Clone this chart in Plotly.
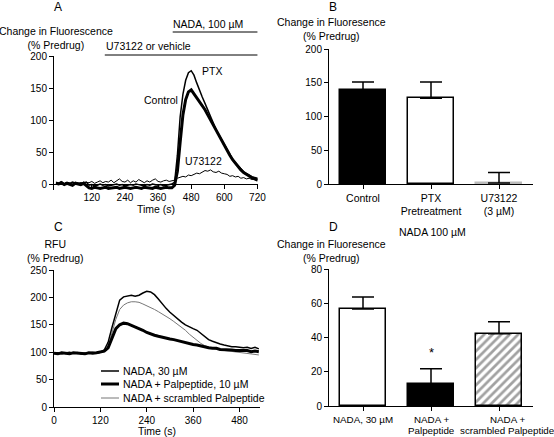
import plotly.graph_objects as go

W, H = 554, 437
FONT = "Liberation Sans, Arial, Helvetica, sans-serif"

# ---------------- Panel A data ----------------
a_time = list(range(-10, 721, 10))
a_control = [1, 0, 2, -1, 1, 0, -2, 1, 0, -1, 1, -2,
             -6, -7, -5, -6, -7, -6, -5, -7, -6, -6, -5, -7, -6, -5, -6, -7,
             -6, -5, -6, -7, -5, -6, -6, -7, -5, -6, -7, -6, -5, -6, -6,
             -2, 20, 65, 108, 132, 144, 147, 141, 135, 128, 122, 116, 108, 100,
             92, 83, 76, 68, 60, 52, 45, 38, 32, 27, 22, 18, 15, 12, 10, 8, 6]
a_ptx = [2, 1, 3, 0, 2, 1, 3, 2, 0, 2, 1, 3,
         -2, -1, -3, -2, 0, -2, -1, -3, -2, -1, 0, -2, -1, -3, -2, -1,
         -2, 0, -1, -2, -3, -1, -2, 0, -1, -2, -1, -3, -2, -1, 0,
         3, 45, 105, 140, 162, 174, 177, 170, 158, 146, 136, 126, 116, 104,
         94, 85, 77, 69, 61, 53, 46, 39, 33, 28, 23, 19, 16, 13, 11, 10, 9]
a_u73122 = [3, 2, 4, 1, 3, 2, 0, 3, 2, 1, 3, 2,
            2, 4, 1, 3, 5, 2, 4, 3, 6, 2, 5, 8, 4, 3, 6, 2,
            5, 3, 7, 4, 2, 5, 3, 6, 8, 4, 3, 5, 6, 4, 5,
            6, 9, 10, 12, 11, 14, 13, 15, 17, 16, 19, 21, 20, 22,
            19, 18, 20, 17, 16, 15, 12, 13, 11, 12, 9, 10, 8, 9, 7, 8, 5]
a_xticks = [120, 240, 360, 480, 600, 720]
a_yticks = [0, 50, 100, 150, 200]

# ---------------- Panel B data ----------------
b_labels = ["Control", "PTX<br>Pretreatment", "U73122<br>(3 µM)"]
b_values = [139, 127, 1.5]
b_errors = [12, 24, 15.5]
b_yticks = [0, 50, 100, 150, 200]

# ---------------- Panel C data ----------------
c_time = list(range(0, 531, 10))
c_nada = [98, 99, 97, 98, 100, 98, 99, 97, 98, 99, 100, 98, 100,
          104, 118, 145, 172, 195, 201, 203, 204, 202, 204, 208, 211, 210, 205,
          197, 188, 180, 173, 167, 160, 155, 150, 146, 143, 140, 134, 128, 123,
          120, 117, 115, 113, 111, 110, 110, 109, 108, 109, 107, 109, 106]
c_palpeptide = [98, 97, 99, 98, 97, 99, 98, 98, 97, 99, 98, 99, 100,
                102, 108, 125, 143, 150, 153, 152, 149, 147, 144, 140, 136, 133, 131,
                129, 127, 126, 124, 123, 121, 120, 118, 116, 114, 113, 111, 110, 108,
                107, 107, 105, 105, 104, 104, 103, 103, 102, 103, 101, 102, 101]
c_scrambled = [99, 98, 100, 97, 99, 98, 100, 99, 97, 98, 99, 98, 99,
               101, 110, 135, 160, 178, 186, 190, 192, 192, 191, 188, 185, 182, 178,
               174, 170, 165, 161, 156, 151, 146, 140, 133, 127, 121, 116, 112, 109,
               107, 105, 104, 104, 103, 102, 101, 100, 99, 98, 97, 96, 95]
c_xticks = [0, 120, 240, 360, 480]
c_yticks = [0, 50, 100, 150, 200, 250]
c_legend = ["NADA, 30 µM", "NADA + Palpeptide, 10 µM", "NADA + scrambled Palpeptide"]

# ---------------- Panel D data ----------------
d_labels_line1 = ["NADA, 30 µM", "NADA +", "NADA +"]
d_labels_line2 = ["", "Palpeptide", "scrambled Palpeptide"]
d_values = [56.6, 12.8, 42.2]
d_errors = [7, 9, 7]
d_yticks = [0, 20, 40, 60, 80]


def px(x):
    return x / W


def py(y):
    return 1 - y / H


fig = go.Figure()

# Panel A traces
fig.add_trace(go.Scatter(x=a_time, y=a_u73122, mode="lines", line=dict(color="black", width=1),
                         xaxis="x", yaxis="y"))
fig.add_trace(go.Scatter(x=a_time, y=a_ptx, mode="lines", line=dict(color="black", width=1.5),
                         xaxis="x", yaxis="y"))
fig.add_trace(go.Scatter(x=a_time, y=a_control, mode="lines", line=dict(color="black", width=3),
                         xaxis="x", yaxis="y"))

# Panel B bars
fig.add_trace(go.Bar(
    x=[0, 1, 2], y=b_values, width=0.68,
    marker=dict(color=["black", "white", "white"],
                line=dict(color=["black", "black", "#bbbbbb"], width=1.5)),
    error_y=dict(type="data", array=b_errors, arrayminus=[0, 0, 0], symmetric=False,
                 color="black", thickness=1.5, width=11),
    xaxis="x2", yaxis="y2"))

# Panel C traces
fig.add_trace(go.Scatter(x=c_time, y=c_scrambled, mode="lines", line=dict(color="#777777", width=1),
                         xaxis="x3", yaxis="y3"))
fig.add_trace(go.Scatter(x=c_time, y=c_nada, mode="lines", line=dict(color="black", width=1.5),
                         xaxis="x3", yaxis="y3"))
fig.add_trace(go.Scatter(x=c_time, y=c_palpeptide, mode="lines", line=dict(color="black", width=3),
                         xaxis="x3", yaxis="y3"))

# Panel D bars
fig.add_trace(go.Bar(
    x=[0, 1, 2], y=d_values, width=0.68,
    marker=dict(color=["white", "black", "white"],
                line=dict(color="black", width=1.5),
                pattern=dict(shape=["", "", "/"], fgcolor="black", bgcolor="white",
                             size=6, solidity=0.45)),
    error_y=dict(type="data", array=d_errors, arrayminus=[0, 0, 0], symmetric=False,
                 color="black", thickness=1.5, width=11),
    xaxis="x4", yaxis="y4"))

axis_common = dict(showline=True, linecolor="black", linewidth=1, ticks="outside",
                   ticklen=4, tickwidth=1, tickcolor="black", showgrid=False, zeroline=False,
                   automargin=False,
                   tickfont=dict(family=FONT, size=10, color="black"))
cat_axis = {**axis_common, "tickfont": dict(family=FONT, size=10.5, color="black"), "tickangle": 0}

fig.update_layout(
    width=W, height=H, margin=dict(l=0, r=0, t=0, b=0, autoexpand=False),
    paper_bgcolor="white", plot_bgcolor="white", showlegend=False,
    font=dict(family=FONT, size=10.5, color="black"),
    bargap=0,
    xaxis=dict(domain=[px(54), px(258)], range=[-17, 722], anchor="free", position=py(184),
               tickvals=a_xticks, title=dict(text="Time (s)", standoff=2,
                                             font=dict(family=FONT, size=10.5)),
               **axis_common),
    yaxis=dict(domain=[py(190.4), py(56)], range=[-10, 200], anchor="x", tickvals=a_yticks,
               **axis_common),
    xaxis2=dict(domain=[px(329), px(533)], range=[-0.5, 2.5], anchor="y2", tickvals=[0, 1, 2],
                ticktext=b_labels, **cat_axis),
    yaxis2=dict(domain=[py(184), py(49)], range=[0, 200], anchor="x2", tickvals=b_yticks,
                **axis_common),
    xaxis3=dict(domain=[px(54), px(260)], range=[0, 533], anchor="y3", tickvals=c_xticks,
                title=dict(text="Time (s)", standoff=2, font=dict(family=FONT, size=10.5)),
                **axis_common),
    yaxis3=dict(domain=[py(407), py(270)], range=[0, 250], anchor="x3", tickvals=c_yticks,
                **axis_common),
    xaxis4=dict(domain=[px(329), px(533)], range=[-0.5, 2.5], anchor="y4", tickvals=[0, 1, 2],
                showticklabels=False, **cat_axis),
    yaxis4=dict(domain=[py(406), py(269)], range=[0, 80], anchor="x4", tickvals=d_yticks,
                **axis_common),
)

ann = []


def text(x, y, s, size=10.5, xanchor="center"):
    ann.append(dict(x=px(x), y=py(y), xref="paper", yref="paper", text=s, showarrow=False,
                    xanchor=xanchor, yanchor="middle", font=dict(family=FONT, size=size, color="black")))


# panel letters
text(58, 7, "A", 12)
text(333, 7, "B", 12)
text(58, 227, "C", 12)
text(333, 227, "D", 12)

# y titles (two lines each)
text(56, 37.5, "Change in Fluorescence<br>(% Predrug)")
text(331, 29, "Change in Fluoresence<br>(% Predrug)")
text(55, 251, "RFU<br>(% Predrug)")
text(331, 250.5, "Change in Fluoresence<br>(% Predrug)")

# panel A labels
text(208, 24, "NADA, 100 µM")
text(148, 46, "U73122 or vehicle")
ann.append(dict(x=554, y=177, xref="x", yref="y", text="PTX", showarrow=False,
                font=dict(family=FONT, size=10.5, color="black")))
ann.append(dict(x=370, y=131, xref="x", yref="y", text="Control", showarrow=False,
                font=dict(family=FONT, size=10.5, color="black")))
ann.append(dict(x=523, y=36, xref="x", yref="y", text="U73122", showarrow=False,
                font=dict(family=FONT, size=10.5, color="black")))

# panel D
text(432, 232, "NADA 100 µM")
ann.append(dict(x=1, y=31, xref="x4", yref="y4", text="*", showarrow=False,
                font=dict(family=FONT, size=13, color="black")))
# panel D category labels
for l1, l2, cx in zip(d_labels_line1, d_labels_line2, [362.5, 431, 507]):
    text(cx, 419, l1, 9.8)
    if l2:
        text(cx, 430, l2, 9.8)

# panel C legend
leg_styles = [("black", 1.5), ("black", 3), ("#777777", 1)]
leg_y = [371, 384, 398]
shapes = []
for lab, (col, wd), yy in zip(c_legend, leg_styles, leg_y):
    shapes.append(dict(type="line", xref="paper", yref="paper", x0=px(101), x1=px(119),
                       y0=py(yy), y1=py(yy), line=dict(color=col, width=wd)))
    text(121, yy, lab, 10.5, xanchor="left")

# panel A treatment bars
shapes.append(dict(type="line", xref="x", yref="paper", x0=413, x1=720, y0=py(32), y1=py(32),
                   line=dict(color="black", width=1)))
shapes.append(dict(type="line", xref="x", yref="paper", x0=167, x1=720, y0=py(55), y1=py(55),
                   line=dict(color="black", width=1)))

fig.update_layout(annotations=ann, shapes=shapes)

fig.write_html(
    "out.html",
    config={"displayModeBar": False},
    post_script="document.body.style.margin='0';document.body.style.padding='0';"
                "document.documentElement.style.margin='0';",
)
